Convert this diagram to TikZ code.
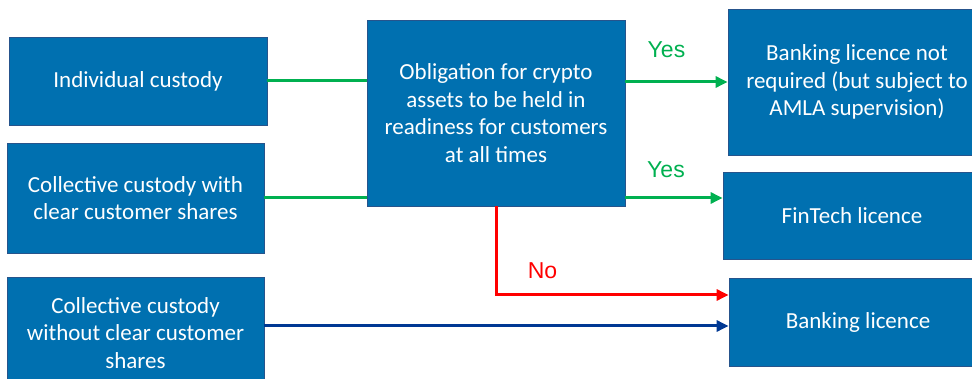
\documentclass[tikz,border=0pt]{standalone}
\usepackage{fontspec}
\setmainfont{Carlito}
\newfontfamily\answerfont{Liberation Sans}
\usetikzlibrary{arrows.meta,positioning,calc}

\definecolor{boxblue}{RGB}{0,112,176}
\definecolor{boxedge}{RGB}{38,84,140}
\definecolor{yesgreen}{RGB}{0,176,80}
\definecolor{nored}{RGB}{255,0,0}
\definecolor{navyline}{RGB}{0,56,147}

\tikzset{
  box/.style={draw=boxedge, line width=0.8pt, fill=boxblue, text=white,
    align=center, inner sep=0pt, font=\fontsize{23}{27.7}\selectfont},
  flow/.style={line width=3pt, -{Triangle[length=12pt,width=11pt]}},
  answer/.style={font=\answerfont\fontsize{23}{26}\selectfont}
}

\begin{document}
\begin{tikzpicture}[x=1pt,y=-1pt]
	\useasboundingbox (0,0) rectangle (972,379);

	% custody types on the left
	\node[box, minimum width=258pt, minimum height=88pt] (ind) at (138,81) {Individual custody};
	\node[box, minimum width=257pt, minimum height=110pt] (colw) at (135.5,198) {Collective custody with\\clear customer shares};
	\node[box, minimum width=257pt, minimum height=112pt] (colwo) at (135.5,333) {Collective custody\\without clear customer\\shares};

	% the test in the middle
	\node[box, minimum width=258pt, minimum height=186pt] (oblig) at (496,113) {Obligation for crypto\\assets to be held in\\readiness for customers\\at all times};

	% outcomes on the right
	\node[box, minimum width=258pt, minimum height=146pt] (nolic) at (857,82) {Banking licence not\\required (but subject to\\AMLA supervision)};
	\node[box, minimum width=258pt, minimum height=87pt] (fintech) at (852,215.5) {FinTech licence};
	\node[box, minimum width=258pt, minimum height=88pt] (banking) at (858,322) {Banking licence};

	% connectors
	\draw[yesgreen, line width=3pt] (ind.east) -- (ind.east -| oblig.west);
	\draw[yesgreen, line width=3pt] (colw.east) -- (colw.east -| oblig.west);
	\draw[flow, yesgreen] (oblig.east |- nolic.west) -- (nolic.west)
		node[answer, midway, above=19pt, xshift=-10pt] {Yes};
	\draw[flow, yesgreen] (colw.east -| oblig.east) -- (colw.east -| fintech.west)
		node[answer, midway, above=15pt, xshift=-8pt] {Yes};
	\draw[flow, nored] (oblig.south) |- ([yshift=27pt]banking.west)
		node[answer, pos=0.6, above=11pt, text=nored] {No};
	\draw[flow, navyline] ([yshift=7pt]colwo.east) -- ([yshift=7pt]colwo.east -| banking.west);
\end{tikzpicture}
\end{document}
